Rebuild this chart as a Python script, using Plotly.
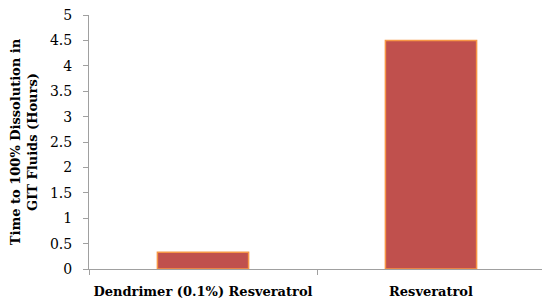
import plotly.graph_objects as go

categories = ["Dendrimer (0.1%) Resveratrol", "Resveratrol"]
values = [0.33, 4.5]
y_ticks = [0, 0.5, 1, 1.5, 2, 2.5, 3, 3.5, 4, 4.5, 5]
y_tick_labels = ["0", "0.5", "1", "1.5", "2", "2.5", "3", "3.5", "4", "4.5", "5"]

font_family = "DejaVu Serif, serif"

fig = go.Figure(go.Bar(
    x=categories, y=values,
    marker=dict(color="#C0504D", line=dict(color="#F79646", width=1.5)),
))

# page body has an 8px default margin, so the figure is shrunk and margins compensated
fig.update_layout(
    width=542, height=295,
    margin=dict(l=81, r=5, t=7, b=34),
    paper_bgcolor="white", plot_bgcolor="white",
    bargap=0.6,
    showlegend=False,
    font=dict(family=font_family, color="#000000", size=14),
)
fig.update_yaxes(
    automargin=False, ticklabeloverflow="allow", ticklabelstandoff=8,
    range=[0, 5], tickvals=y_ticks, ticktext=y_tick_labels,
    showgrid=False, zeroline=False,
    showline=True, linecolor="#A0A0A0", linewidth=1,
    ticks="outside", ticklen=5, tickcolor="#A0A0A0",
    tickfont=dict(size=14, family=font_family),
    title=dict(text="<b>Time to 100% Dissolution in<br>GIT Fluids (Hours)</b>",
               font=dict(size=13, family=font_family), standoff=10),
)
fig.update_xaxes(
    automargin=False, tickangle=0, ticklabelstandoff=10,
    showgrid=False, zeroline=False,
    showline=True, linecolor="#A0A0A0", linewidth=1,
    ticks="outside", ticklen=5, tickcolor="#A0A0A0", tickson="boundaries",
    tickfont=dict(size=13, family=font_family),
    ticktext=["<b>Dendrimer (0.1%) Resveratrol</b>", "<b>Resveratrol</b>"],
    tickvals=categories,
)

fig.write_html("out.html")
